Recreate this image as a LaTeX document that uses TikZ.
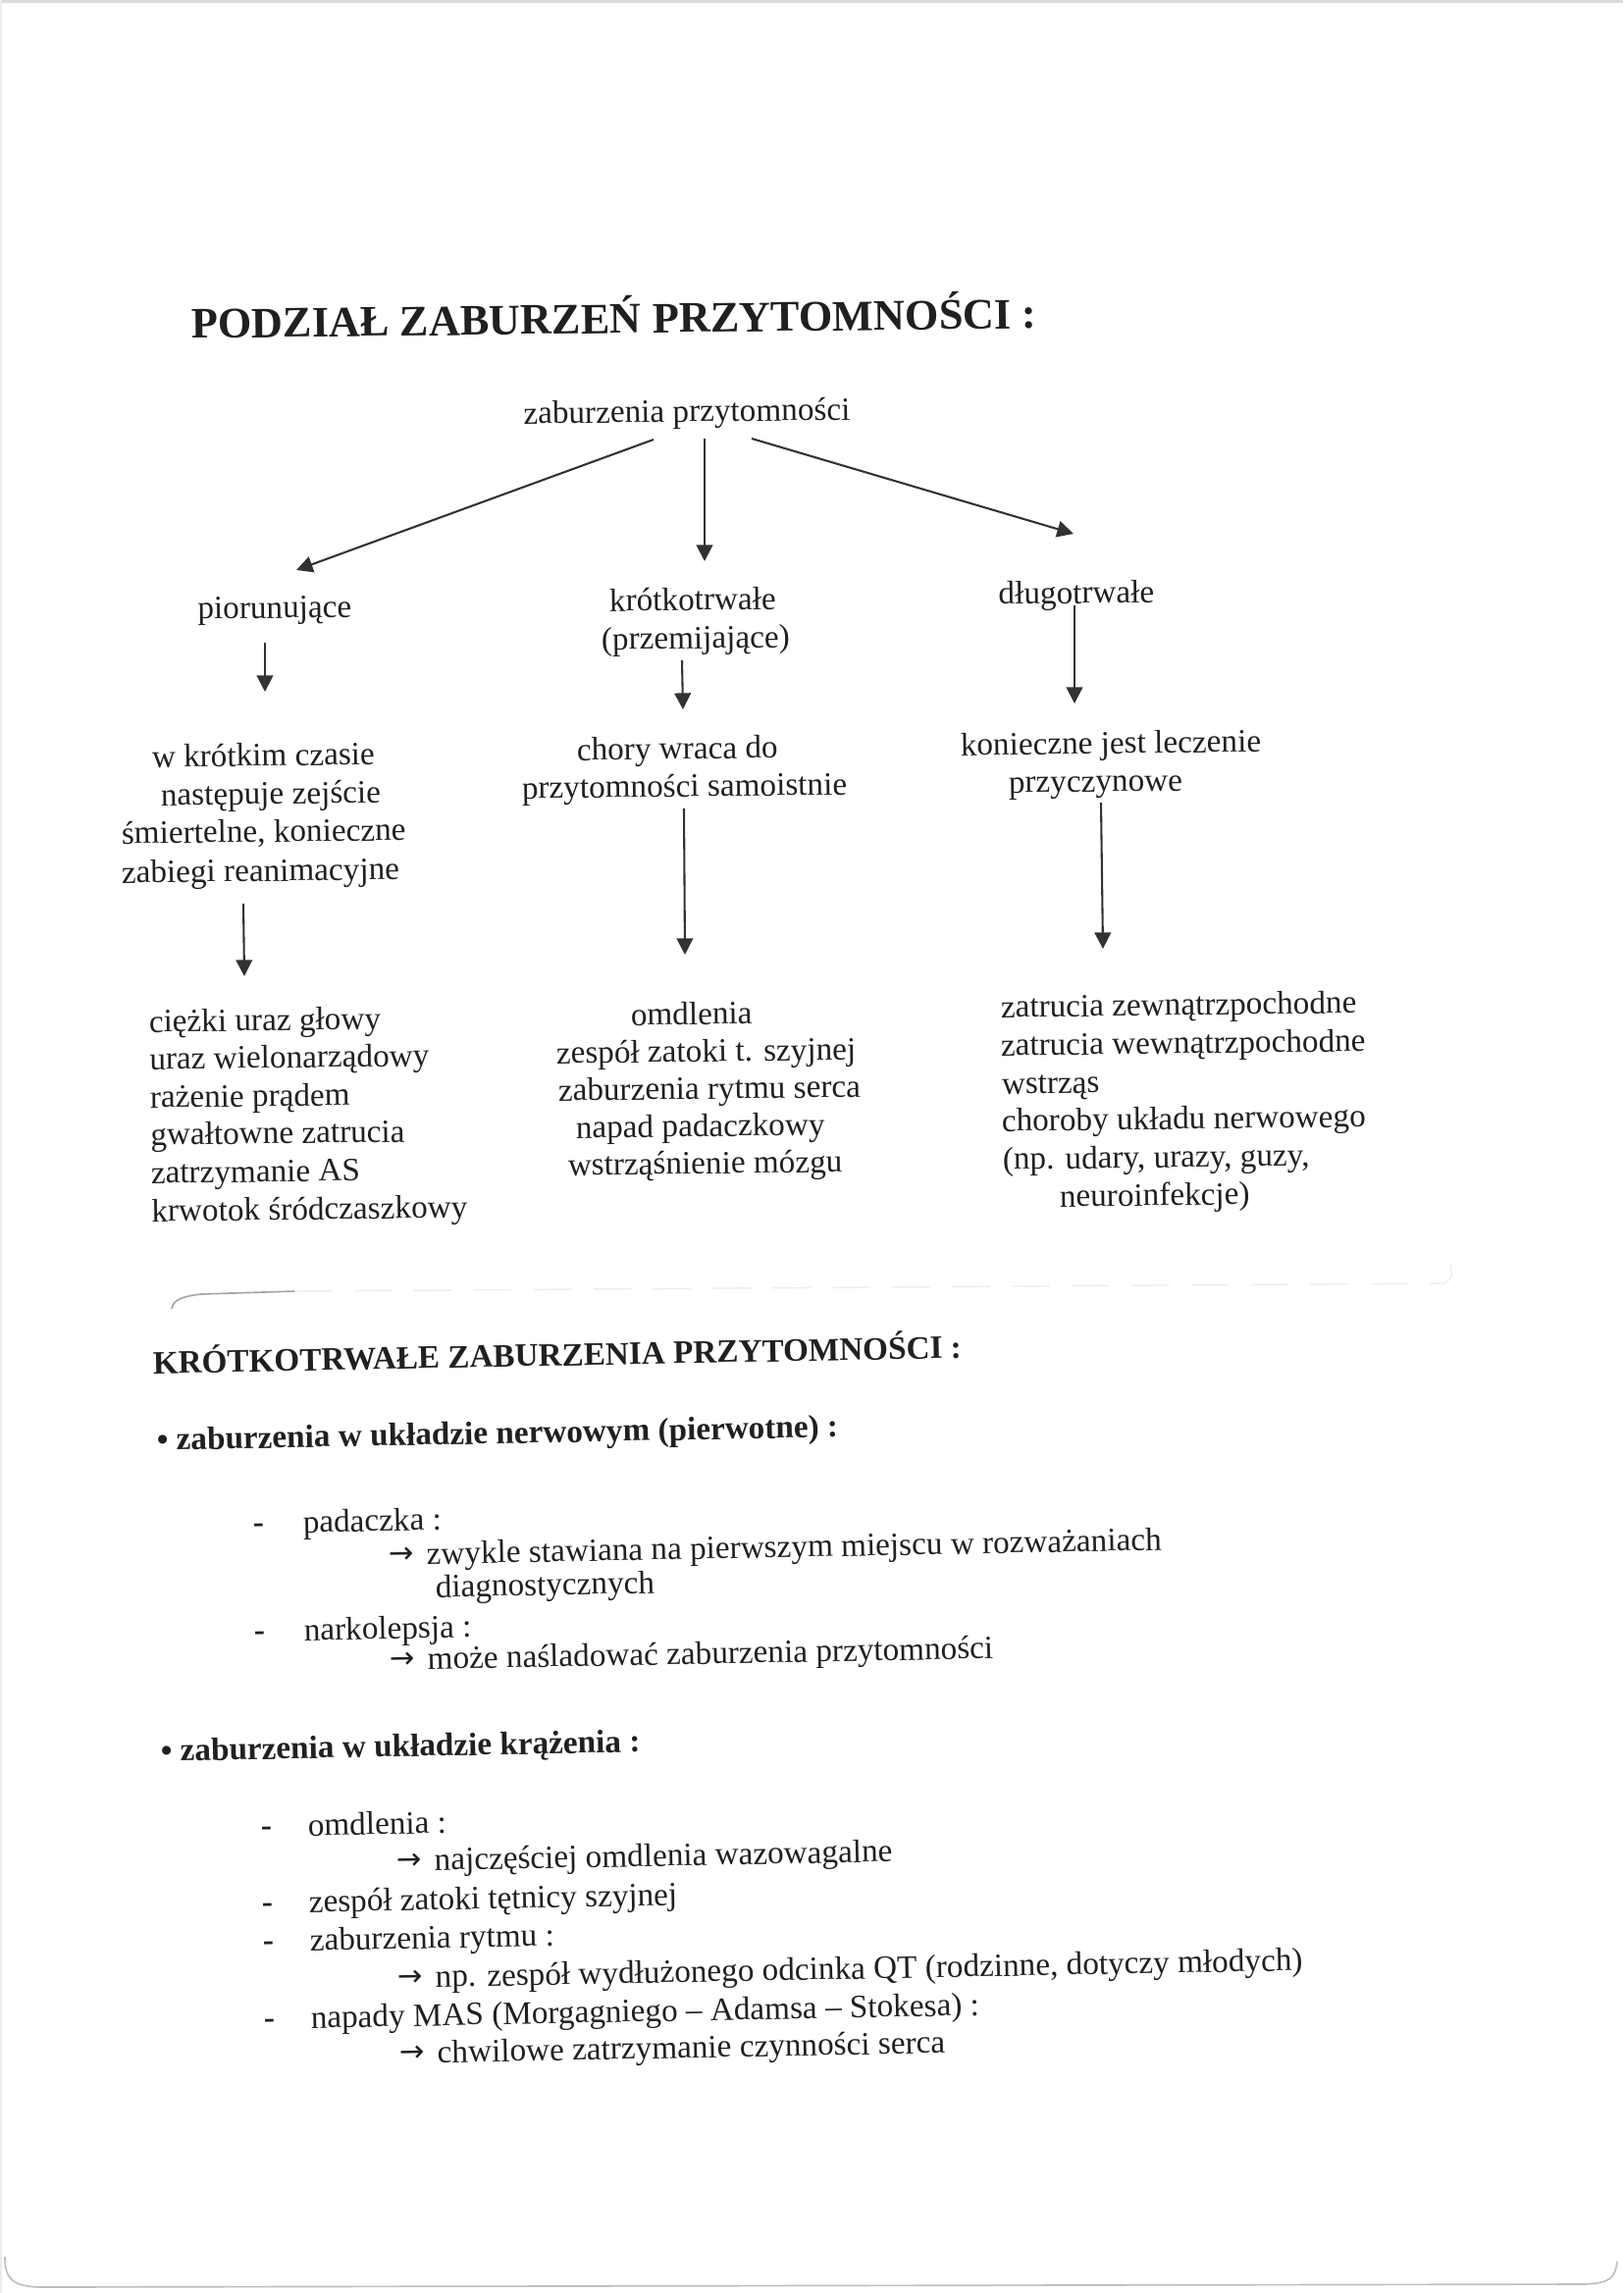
\documentclass[tikz,border=0pt]{standalone}
\usepackage{fontspec}
\setmainfont{Liberation Serif}
\newfontfamily\arrowfont{DejaVu Sans}
\usetikzlibrary{arrows.meta}
\definecolor{ink}{RGB}{32,32,32}
\definecolor{lineink}{RGB}{50,50,50}
\newcommand{\rarr}{\raisebox{0.6pt}{\fontsize{11}{12}\arrowfont →}\hspace{4.5pt}}
\begin{document}
\begin{tikzpicture}[x=0.0126965cm,y=-0.0126965cm,
  txt/.style={inner sep=0pt, outer sep=0pt, text=ink, font=\fontsize{12}{14}\selectfont},
  up/.style={txt, rotate=0.7},
  low/.style={txt, rotate=1.1},
  lu/.style={up, anchor=base west},
  cu/.style={up, anchor=base},
  ll/.style={low, anchor=base west},
  llb/.style={ll, font=\fontsize{12}{14}\selectfont\bfseries},
  arr/.style={draw=lineink, line width=0.75pt, -{Triangle[length=6pt,width=6pt]}},
  scan/.style={draw=gray!50, line width=0.6pt},
]
\useasboundingbox (0,0) rectangle (1654,2337);
% page edges of the scan
\fill[gray!28] (0,0) rectangle (1654,3);
\fill[gray!15] (0,0) rectangle (2,2337);
\draw[scan] (5,2300) .. controls (5,2322) and (12,2330) .. (40,2331) -- (1615,2328) .. controls (1640,2327) and (1646,2322) .. (1648,2305);

% ---------------- title
\node[lu, font=\fontsize{16}{19}\selectfont\bfseries] (title) at (195,345) {PODZIAŁ ZABURZEŃ PRZYTOMNOŚCI :};

% ---------------- tree
\node[cu] (root) at (700,430) {zaburzenia przytomności};

\node[cu] (pior) at (280,630) {piorunujące};
\node[cu] (krot) at (706,622) {krótkotrwałe};
\node[cu] (krotb) at (709,661) {(przemijające)};
\node[cu] (dlug) at (1097,615) {długotrwałe};

\node[lu] (pa1) at (155,782) {w krótkim czasie};
\node[lu] (pa2) at (164,821) {następuje zejście};
\node[lu] (pa3) at (124,860) {śmiertelne, konieczne};
\node[lu] (pa4) at (124,900) {zabiegi reanimacyjne};

\node[lu] (ka1) at (588,775) {chory wraca do};
\node[lu] (ka2) at (532,814) {przytomności samoistnie};

\node[lu] (da1) at (979,770) {konieczne jest leczenie};
\node[lu] (da2) at (1028,808) {przyczynowe};

\node[lu] (pb1) at (152,1052) {ciężki uraz głowy};
\node[lu] (pb2) at (152.5,1090) {uraz wielonarządowy};
\node[lu] (pb3) at (153,1129) {rażenie prądem};
\node[lu] (pb4) at (153.5,1167) {gwałtowne zatrucia};
\node[lu] (pb5) at (154,1206) {zatrzymanie AS};
\node[lu] (pb6) at (154.5,1245) {krwotok śródczaszkowy};

\node[lu] (kb1) at (643,1045) {omdlenia};
\node[lu] (kb2) at (567,1084) {zespół zatoki t. szyjnej};
\node[lu] (kb3) at (569,1122) {zaburzenia rytmu serca};
\node[lu] (kb4) at (587,1160) {napad padaczkowy};
\node[lu] (kb5) at (579,1198) {wstrząśnienie mózgu};

\node[lu] (db1) at (1020,1037) {zatrucia zewnątrzpochodne};
\node[lu] (db2) at (1020,1076) {zatrucia wewnątrzpochodne};
\node[lu] (db3) at (1021,1115) {wstrząs};
\node[lu] (db4) at (1021,1153) {choroby układu nerwowego};
\node[lu] (db5) at (1022,1192) {(np. udary, urazy, guzy,};
\node[lu] (db6) at (1080,1230) {neuroinfekcje)};

% arrow end points
\coordinate (r1s) at (666,448);  \coordinate (r1e) at (302,581);
\coordinate (r2s) at (718,447);  \coordinate (r2e) at (718,572);
\coordinate (r3s) at (766,447);  \coordinate (r3e) at (1094,544);
\coordinate (p1s) at (270,655);  \coordinate (p1e) at (270,705);
\coordinate (k1s) at (695,673);  \coordinate (k1e) at (696,723);
\coordinate (d1s) at (1095,617); \coordinate (d1e) at (1095,717);
\coordinate (p2s) at (248,921);  \coordinate (p2e) at (249,995);
\coordinate (k2s) at (697,824);  \coordinate (k2e) at (698,973);
\coordinate (d2s) at (1122,818); \coordinate (d2e) at (1124,967);

\draw[arr] (r1s) -- (r1e);
\draw[arr] (r2s) -- (r2e);
\draw[arr] (r3s) -- (r3e);
\draw[arr] (p1s) -- (p1e);
\draw[arr] (k1s) -- (k1e);
\draw[arr] (d1s) -- (d1e);
\draw[arr] (p2s) -- (p2e);
\draw[arr] (k2s) -- (k2e);
\draw[arr] (d2s) -- (d2e);

% faint scanned separator
\draw[draw=gray!70, line width=0.6pt] (175,1334) .. controls (176,1325) and (186,1321) .. (205,1319) -- (300,1316);
\draw[draw=gray!14, line width=0.5pt, dash pattern=on 14pt off 8pt] (300,1316) -- (1472,1308) .. controls (1480,1302) .. (1478,1288);

% ---------------- section 2
\node[llb] (h2) at (156,1400) {KRÓTKOTRWAŁE ZABURZENIA PRZYTOMNOŚCI :};
\node[llb] (b1) at (160,1478) {• zaburzenia w układzie nerwowym (pierwotne) :};

\node[llb] (m1) at (258,1562) {-};
\node[ll] (i1) at (309,1562) {padaczka :};
\node[ll] (e1) at (397,1595) {\rarr zwykle stawiana na pierwszym miejscu w rozważaniach};
\node[ll] (e1b) at (444,1628) {diagnostycznych};
\node[llb] (m2) at (259,1672) {-};
\node[ll] (i2) at (310,1672) {narkolepsja :};
\node[ll] (e2) at (398,1702) {\rarr może naśladować zaburzenia przytomności};

\node[llb] (b2) at (164,1795) {• zaburzenia w układzie krążenia :};

\node[llb] (m3) at (266,1871) {-};
\node[ll] (i3) at (314,1871) {omdlenia :};
\node[ll] (e3) at (405,1907) {\rarr najczęściej omdlenia wazowagalne};
\node[llb] (m4) at (267,1949) {-};
\node[ll] (i4) at (315,1949) {zespół zatoki tętnicy szyjnej};
\node[llb] (m5) at (268,1988) {-};
\node[ll] (i5) at (316,1988) {zaburzenia rytmu :};
\node[ll] (e5) at (406,2026) {\rarr np. zespół wydłużonego odcinka QT (rodzinne, dotyczy młodych)};
\node[llb] (m6) at (269,2067) {-};
\node[ll] (i6) at (317,2067) {napady MAS (Morgagniego – Adamsa – Stokesa) :};
\node[ll] (e6) at (408,2103) {\rarr chwilowe zatrzymanie czynności serca};
\end{tikzpicture}
\end{document}
